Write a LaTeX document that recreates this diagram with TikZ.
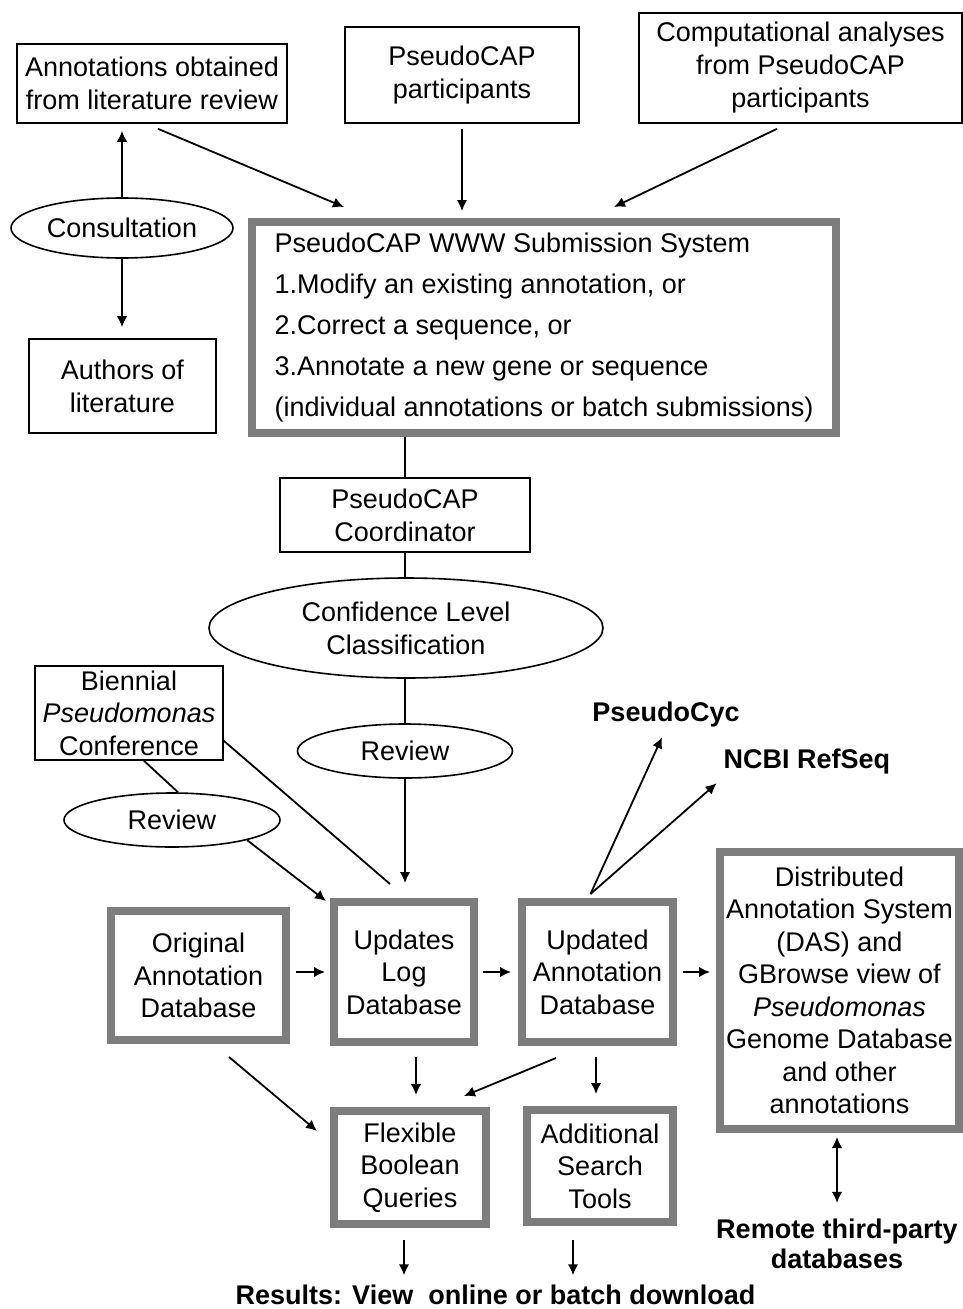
\documentclass[tikz,border=0pt]{standalone}
\usepackage{fontspec}
\setmainfont{Liberation Sans}
\usetikzlibrary{shapes.geometric,arrows.meta,calc}
\definecolor{boxgray}{RGB}{125,125,125}
\tikzset{
  txt/.style={font=\fontsize{27}{33}\selectfont, align=center, inner sep=0pt},
  thinbox/.style={txt, draw=black, line width=1.6pt, rectangle},
  oval/.style={txt, draw=black, line width=1.6pt, ellipse},
  thickbox/.style={txt, draw=boxgray, line width=8pt, rectangle, font=\fontsize{27}{32.5}\selectfont},
  boldtxt/.style={txt, font=\fontsize{27}{30}\selectfont\bfseries},
  arr/.style={-{Latex[length=11pt,width=10.5pt]}, line width=1.8pt},
  arrtwo/.style={{Latex[length=11pt,width=10.5pt]}-{Latex[length=11pt,width=10.5pt]}, line width=1.8pt},
  ln/.style={line width=1.8pt}
}
\begin{document}
\begin{tikzpicture}[x=1pt,y=-1pt]
\fill[white] (0,0) rectangle (963,1309);
\useasboundingbox (0,0) rectangle (963,1309);

% top sources
\node[thinbox, minimum width=270pt, minimum height=79pt] (ann) at (152,83.5) {Annotations obtained\\from literature review};
\node[thinbox, minimum width=234pt, minimum height=96pt] (part) at (462,75) {PseudoCAP\\participants};
\node[thinbox, minimum width=323pt, minimum height=110pt] (comp) at (800.5,68) {Computational analyses\\from PseudoCAP\\participants};

\node[oval, minimum width=222pt, minimum height=60pt] (consult) at (122,228) {Consultation};
\node[thinbox, minimum width=187pt, minimum height=94pt] (auth) at (122.5,386) {Authors of\\literature};

\node[thickbox, minimum width=584pt, minimum height=211pt, align=left, font=\fontsize{27}{41}\selectfont] (sub) at (544,327.5)
  {PseudoCAP WWW Submission System\\1.Modify an existing annotation, or\\2.Correct a sequence, or\\3.Annotate a new gene or sequence\\(individual annotations or batch submissions)};

\node[thinbox, minimum width=250pt, minimum height=74pt] (coord) at (405,515) {PseudoCAP\\Coordinator};
\node[oval, minimum width=394pt, minimum height=100pt] (conf) at (406,628) {Confidence Level\\Classification};

\node[thinbox, minimum width=188pt, minimum height=94pt, font=\fontsize{27}{32.5}\selectfont] (bien) at (129,713) {Biennial\\\textit{Pseudomonas}\\Conference};
\node[oval, minimum width=215pt, minimum height=54pt] (rev1) at (405,751) {Review};
\node[oval, minimum width=216pt, minimum height=54pt] (rev2) at (172,820) {Review};

\node[boldtxt] (pcyc) at (666,715) {PseudoCyc};
\node[boldtxt] (ncbi) at (807,762) {NCBI RefSeq};

% databases
\node[thickbox, minimum width=175pt, minimum height=129pt] (orig) at (198.5,975.5) {Original\\Annotation\\Database};
\node[thickbox, minimum width=140pt, minimum height=140pt] (upd) at (404,972) {Updates\\Log\\Database};
\node[thickbox, minimum width=151pt, minimum height=140pt] (upa) at (597.5,972) {Updated\\Annotation\\Database};
\node[thickbox, minimum width=239pt, minimum height=277pt] (das) at (839.5,990.5) {Distributed\\Annotation System\\(DAS) and\\GBrowse view of\\\textit{Pseudomonas}\\Genome Database\\and other\\annotations};
\node[thickbox, minimum width=152pt, minimum height=113pt] (flex) at (410,1167.5) {Flexible\\Boolean\\Queries};
\node[thickbox, minimum width=146pt, minimum height=112pt] (addl) at (600,1166) {Additional\\Search\\Tools};

\node[boldtxt] (remote) at (837,1244) {Remote third-party\\databases};
\node[boldtxt, anchor=base] (res) at (495.5,1304) {Results: View\ \ online or batch download};

% connectors top
\draw[arr] ([xshift=6pt,yshift=-5pt]ann.south) -- ([xshift=-200pt,yshift=11pt]sub.north);
\draw[arr] ([yshift=-5pt]part.south) -- ([xshift=-82pt,yshift=7pt]sub.north);
\draw[arr] ([xshift=-23.5pt,yshift=-5pt]comp.south) -- ([xshift=70pt,yshift=11pt]sub.north);
\draw[arr, shorten >=7pt] (consult.north) -- (consult.north |- ann.south);
\draw[arr, shorten >=11pt] (consult.south) -- (consult.south |- auth.north);

\draw[ln] (sub.south -| coord.north) -- (coord.north);
\draw[ln] (coord.south) -- (coord.south |- conf.north);
\draw[ln] (conf.south -| rev1.north) -- (rev1.north);
\draw[arr, shorten >=15pt] (rev1.south) -- (rev1.south |- upd.north);

\draw[ln] ([yshift=20pt]bien.south east) -- ([xshift=-14pt,yshift=14pt]upd.north);
\draw[ln] ([xshift=15pt]bien.south) -- ([xshift=6pt]rev2.north);
\draw[arr] (rev2.-15) -- ([xshift=-4pt,yshift=-3pt]upd.north west);

% horizontal chain
\draw[arr, shorten <=6pt, shorten >=5pt] (orig.east |- upd.west) -- (upd.west);
\draw[arr, shorten <=5pt, shorten >=7pt] (upd.east) -- (upa.west);
\draw[arr, shorten <=6pt, shorten >=6pt] (upa.east) -- (upa.east -| das.west);

% outputs of updated database
\draw[arr] ([xshift=-7pt,yshift=4pt]upa.north) -- ([xshift=-4pt,yshift=-9.5pt]pcyc.south);
\draw[arr] ([xshift=-7pt,yshift=4pt]upa.north) -- ([xshift=-7pt,yshift=-8.5pt]ncbi.south west);

% lower arrows
\draw[arr] ([xshift=30.5pt,yshift=-13pt]orig.south) -- ([xshift=-13pt,yshift=-24pt]flex.north west);
\draw[arr] ([xshift=12pt,yshift=-11pt]upd.south) -- ([xshift=6pt,yshift=12pt]flex.north);
\draw[arr] ([xshift=-41.5pt,yshift=-12pt]upa.south) -- ([xshift=54pt,yshift=11pt]flex.north);
\draw[arr] ([xshift=-1.5pt,yshift=-11pt]upa.south) -- ([xshift=-4pt,yshift=12pt]addl.north);
\draw[arrtwo] ([xshift=-2.5pt,yshift=-4pt]das.south) -- ([yshift=16pt]remote.north);
\draw[arr] ([xshift=-6pt,yshift=-12pt]flex.south) -- ([xshift=-91.5pt,yshift=9pt]res.north);
\draw[arr] ([xshift=-27pt,yshift=-14pt]addl.south) -- ([xshift=77.5pt,yshift=9pt]res.north);
\end{tikzpicture}
\end{document}
